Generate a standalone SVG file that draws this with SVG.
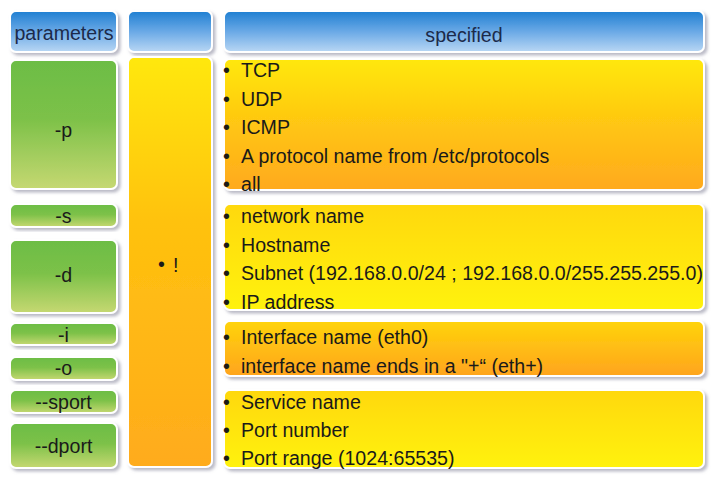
<svg xmlns="http://www.w3.org/2000/svg" width="721" height="485" viewBox="0 0 721 485">
<defs>
<linearGradient id="gBlue" x1="0" y1="0" x2="0" y2="1"><stop offset="0" stop-color="#1f7fd2"/><stop offset="0.5" stop-color="#6aa9e6"/><stop offset="1" stop-color="#b9d7f4"/></linearGradient>
<linearGradient id="gGreen" x1="0" y1="0" x2="0" y2="1"><stop offset="0" stop-color="#6cbd45"/><stop offset="0.45" stop-color="#7cc148"/><stop offset="1" stop-color="#c6d872"/></linearGradient>
<linearGradient id="gCol2" x1="0" y1="0" x2="0" y2="1"><stop offset="0" stop-color="#ffe80a"/><stop offset="0.4" stop-color="#ffc20e"/><stop offset="1" stop-color="#ffab1c"/></linearGradient>
<linearGradient id="gYO" x1="0" y1="0" x2="0" y2="1"><stop offset="0" stop-color="#ffe80a"/><stop offset="0.5" stop-color="#ffc612"/><stop offset="1" stop-color="#ffa91e"/></linearGradient>
<linearGradient id="gYY" x1="0" y1="0" x2="0" y2="1"><stop offset="0" stop-color="#ffd808"/><stop offset="1" stop-color="#fff20a"/></linearGradient>
<linearGradient id="gOO" x1="0" y1="0" x2="0" y2="1"><stop offset="0" stop-color="#ffd40a"/><stop offset="1" stop-color="#ffa41e"/></linearGradient>
<filter id="sh" x="-10%" y="-10%" width="125%" height="130%"><feDropShadow dx="2.5" dy="2.5" stdDeviation="1.5" flood-color="#8c8ca0" flood-opacity="0.6"/></filter>
<style>
.box{stroke:#ffffff;stroke-width:2;filter:url(#sh)}
.t{font-family:"Liberation Sans",Arial,sans-serif;font-size:19.6px;fill:#1a1a1a}
.c{text-anchor:middle}
.h{fill:#1c2a4a}
.b{font-family:"Liberation Sans",Arial,sans-serif;font-size:19.6px;fill:#1a1a1a}
</style>
</defs>
<rect width="721" height="485" fill="#ffffff"/>
<g id="header-parameters"><rect class="box" x="10" y="11" width="107" height="41" rx="6" fill="url(#gBlue)"/><text class="t c h" x="64" y="40">parameters</text></g>
<g id="header-middle"><rect class="box" x="128" y="11" width="84" height="41" rx="6" fill="url(#gBlue)"/></g>
<g id="header-specified"><rect class="box" x="224" y="11" width="480" height="41" rx="6" fill="url(#gBlue)"/><text class="t c h" x="464" y="42">specified</text></g>

<g id="param-p"><rect class="box" x="10" y="60" width="107" height="129" rx="6" fill="url(#gGreen)"/><text class="t c" x="63.5" y="137">-p</text></g>
<g id="param-s"><rect class="box" x="10" y="204" width="107" height="23" rx="6" fill="url(#gGreen)"/><text class="t c" x="63.5" y="223">-s</text></g>
<g id="param-d"><rect class="box" x="10" y="240" width="107" height="73" rx="6" fill="url(#gGreen)"/><text class="t c" x="63.5" y="282">-d</text></g>
<g id="param-i"><rect class="box" x="10" y="323" width="107" height="22" rx="6" fill="url(#gGreen)"/><text class="t c" x="63.5" y="342">-i</text></g>
<g id="param-o"><rect class="box" x="10" y="357" width="107" height="23" rx="6" fill="url(#gGreen)"/><text class="t c" x="63.5" y="375">-o</text></g>
<g id="param-sport"><rect class="box" x="10" y="390" width="107" height="23" rx="6" fill="url(#gGreen)"/><text class="t c" x="63.5" y="409">--sport</text></g>
<g id="param-dport"><rect class="box" x="10" y="423" width="107" height="45" rx="6" fill="url(#gGreen)"/><text class="t c" x="63.5" y="453">--dport</text></g>

<g id="negation"><rect class="box" x="128" y="57" width="84" height="410" rx="6" fill="url(#gCol2)"/><text class="b" x="158" y="271">•</text><text class="t" x="173" y="272">!</text></g>

<g id="spec-protocol"><rect class="box" x="224" y="59" width="480" height="131" rx="6" fill="url(#gYO)"/>
<text class="b" x="223" y="77">•</text><text class="t" x="241" y="77">TCP</text>
<text class="b" x="223" y="105.5">•</text><text class="t" x="241" y="105.5">UDP</text>
<text class="b" x="223" y="134">•</text><text class="t" x="241" y="134">ICMP</text>
<text class="b" x="223" y="162.5">•</text><text class="t" x="241" y="162.5">A protocol name from /etc/protocols</text>
<text class="b" x="223" y="191">•</text><text class="t" x="241" y="191">all</text></g>
<g id="spec-address"><rect class="box" x="224" y="204" width="480" height="106" rx="6" fill="url(#gYY)"/>
<text class="b" x="223" y="223">•</text><text class="t" x="241" y="223">network name</text>
<text class="b" x="223" y="251.5">•</text><text class="t" x="241" y="251.5">Hostname</text>
<text class="b" x="223" y="280">•</text><text class="t" x="241" y="280">Subnet (192.168.0.0/24 ; 192.168.0.0/255.255.255.0)</text>
<text class="b" x="223" y="308.5">•</text><text class="t" x="241" y="308.5">IP address</text></g>
<g id="spec-interface"><rect class="box" x="224" y="321" width="480" height="55" rx="6" fill="url(#gOO)"/>
<text class="b" x="223" y="344">•</text><text class="t" x="241" y="344">Interface name (eth0)</text>
<text class="b" x="223" y="372.5">•</text><text class="t" x="241" y="372.5">interface name ends in a "+“ (eth+)</text></g>
<g id="spec-port"><rect class="box" x="224" y="390" width="480" height="78" rx="6" fill="url(#gYY)"/>
<text class="b" x="223" y="408.5">•</text><text class="t" x="241" y="408.5">Service name</text>
<text class="b" x="223" y="437">•</text><text class="t" x="241" y="437">Port number</text>
<text class="b" x="223" y="465">•</text><text class="t" x="241" y="465">Port range (1024:65535)</text></g>
<g id="connectors"></g>
</svg>
